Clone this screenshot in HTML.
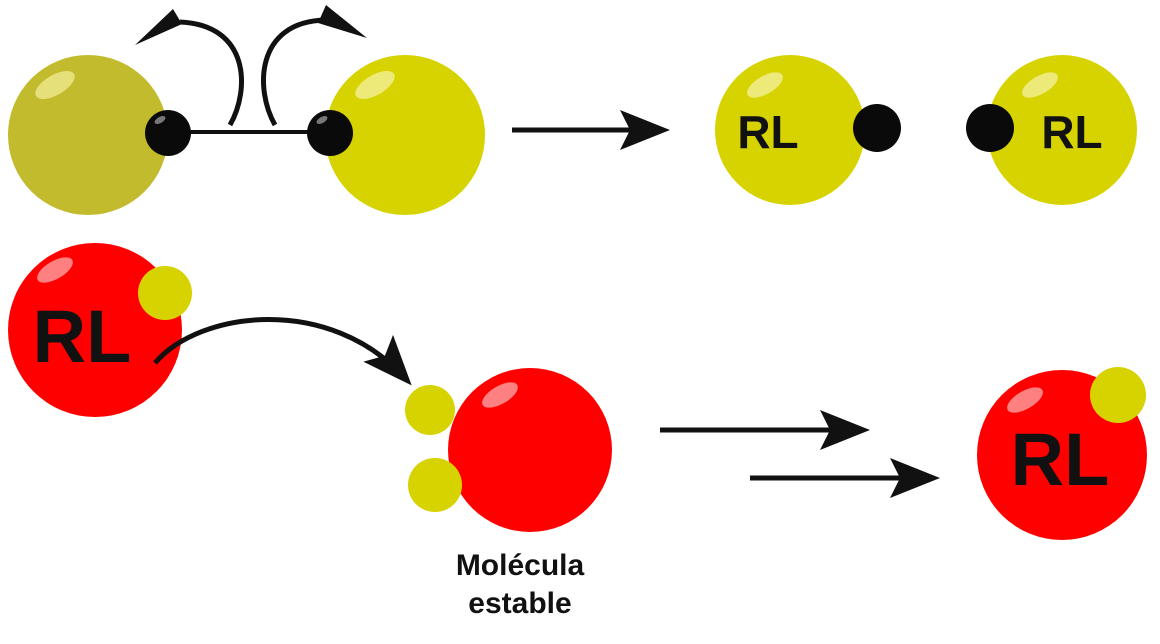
<!DOCTYPE html>
<html><head><meta charset="utf-8"><style>
html,body{margin:0;padding:0;background:#fff;width:1160px;height:644px;overflow:hidden}
svg{display:block}
text{font-family:"Liberation Sans",Arial,sans-serif;font-weight:bold;fill:#111}
</style></head><body>
<svg width="1160" height="644" viewBox="0 0 1160 644">
<defs>
<marker id="ah" markerWidth="10" markerHeight="8" refX="8" refY="4" orient="auto" markerUnits="strokeWidth">
<path d="M0,0 L10,4 L0,8 L2,4 Z" fill="#111"/></marker>
</defs>
<!-- top left -->
<circle cx="88" cy="135" r="80" fill="#c2bb2e"/>
<ellipse cx="55" cy="85" rx="22" ry="10" fill="#e6e07a" transform="rotate(-30 55 85)"/>
<circle cx="405" cy="135" r="80" fill="#d7d300"/>
<ellipse cx="375" cy="85" rx="22" ry="10" fill="#eeea7a" transform="rotate(-30 375 85)"/>
<line x1="170" y1="132" x2="328" y2="132" stroke="#111" stroke-width="4"/>
<circle cx="168" cy="133" r="23" fill="#0a0a0a"/>
<ellipse cx="160" cy="120" rx="6" ry="3" fill="#777" transform="rotate(-30 160 120)"/>
<circle cx="330" cy="133" r="23" fill="#0a0a0a"/>
<ellipse cx="322" cy="120" rx="6" ry="3" fill="#777" transform="rotate(-30 322 120)"/>
<path d="M230,125 C250,90 250,25 180,22" fill="none" stroke="#111" stroke-width="5"/>
<path d="M173,9 L135,45 L182,24 Z" fill="#111"/>
<path d="M275,125 C255,90 255,22 325,20" fill="none" stroke="#111" stroke-width="5"/>
<path d="M326,5 L367,38 L318,23 Z" fill="#111"/>
<line x1="512" y1="130" x2="660" y2="130" stroke="#111" stroke-width="5" marker-end="url(#ah)"/>
<!-- top right -->
<circle cx="790" cy="130" r="75" fill="#d7d300"/>
<ellipse cx="765" cy="85" rx="20" ry="9" fill="#eeea7a" transform="rotate(-30 765 85)"/>
<text x="768" y="148" font-size="46" text-anchor="middle">RL</text>
<circle cx="877" cy="128" r="24" fill="#0a0a0a"/>
<circle cx="1062" cy="130" r="75" fill="#d7d300"/>
<ellipse cx="1040" cy="85" rx="20" ry="9" fill="#eeea7a" transform="rotate(-30 1040 85)"/>
<circle cx="990" cy="128" r="24" fill="#0a0a0a"/>
<text x="1072" y="148" font-size="46" text-anchor="middle">RL</text>
<!-- bottom left -->
<circle cx="95" cy="330" r="87" fill="#f00"/>
<ellipse cx="55" cy="270" rx="20" ry="9" fill="#ff8080" transform="rotate(-30 55 270)"/>
<text x="82" y="362" font-size="74" text-anchor="middle">RL</text>
<circle cx="165" cy="293" r="27" fill="#d7d300"/>
<path d="M155,363 C200,310 330,295 405,378" fill="none" stroke="#111" stroke-width="5" marker-end="url(#ah)"/>
<!-- middle -->
<circle cx="530" cy="450" r="82" fill="#f00"/>
<ellipse cx="500" cy="395" rx="20" ry="9" fill="#ff8080" transform="rotate(-30 500 395)"/>
<circle cx="430" cy="410" r="25" fill="#d7d300"/>
<circle cx="435" cy="485" r="27" fill="#d7d300"/>
<text x="520" y="575" font-size="30" text-anchor="middle">Molécula</text>
<text x="520" y="613" font-size="30" text-anchor="middle">estable</text>
<line x1="660" y1="430" x2="860" y2="430" stroke="#111" stroke-width="5" marker-end="url(#ah)"/>
<line x1="750" y1="478" x2="930" y2="478" stroke="#111" stroke-width="5" marker-end="url(#ah)"/>
<!-- bottom right -->
<circle cx="1062" cy="455" r="85" fill="#f00"/>
<ellipse cx="1025" cy="400" rx="20" ry="9" fill="#ff8080" transform="rotate(-30 1025 400)"/>
<circle cx="1118" cy="395" r="28" fill="#d7d300"/>
<text x="1060" y="485" font-size="74" text-anchor="middle">RL</text>
</svg>
</body></html>
